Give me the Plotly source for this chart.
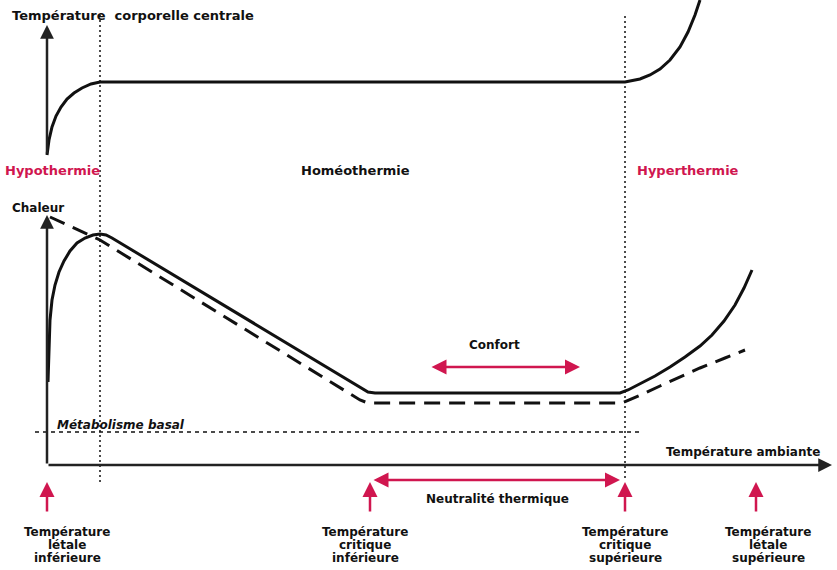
import plotly.graph_objects as go

# Schematic units: x = ambient temperature scale, y = response scale (upward)
# Key ambient temperatures
t_letale_inf = 47
t_homeo_start = 100
t_critique_inf = 370
t_critique_sup = 625
t_letale_sup = 756

# Core body temperature (upper panel)
corps_x = [47, 49, 52, 56, 61, 67, 74, 82, 91, 100, 625, 630, 640, 650, 660, 670, 680, 688, 695, 700]
corps_y = [415, 430, 443, 454, 463, 471, 477, 482, 486, 488, 488, 489, 491, 495, 501, 510, 523, 538, 555, 570]

# Heat production (lower panel, solid)
chaleur_x = [48, 49, 50, 52, 55, 59, 64, 70, 77, 85, 93, 100, 106, 112, 362, 368, 375,
             620, 628, 640, 655, 670, 685, 700, 712, 724, 735, 744, 752]
chaleur_y = [188, 225, 250, 270, 285, 298, 309, 319, 327, 332, 335, 336, 335, 332, 182, 178, 177,
             177, 180, 186, 194, 203, 213, 224, 235, 249, 265, 282, 300]

# Heat loss (lower panel, dashed)
perte_x = [50, 100, 360, 368, 622, 632, 645, 660, 680, 700, 725, 745]
perte_y = [353, 330, 170, 167, 167, 171, 177, 184, 193, 202, 212, 220]

# Basal metabolism level
basal_y = 138
basal_x = [35, 640]

RED = "#d0164f"
BLACK = "#111111"
FONT = "DejaVu Sans, Liberation Sans, Arial, sans-serif"

fig = go.Figure()

fig.add_trace(go.Scatter(x=corps_x, y=corps_y, mode="lines",
                         line=dict(color=BLACK, width=3)))
fig.add_trace(go.Scatter(x=chaleur_x, y=chaleur_y, mode="lines",
                         line=dict(color=BLACK, width=3)))
fig.add_trace(go.Scatter(x=perte_x, y=perte_y, mode="lines",
                         line=dict(color=BLACK, width=3, dash="16px,9px")))
fig.add_trace(go.Scatter(x=basal_x, y=[basal_y, basal_y], mode="lines",
                         line=dict(color=BLACK, width=1.5, dash="4px,4px")))

# Dotted zone boundaries
for xv, y0 in [(t_homeo_start, 88), (t_critique_sup, 92)]:
    fig.add_trace(go.Scatter(x=[xv, xv], y=[y0, 555], mode="lines",
                             line=dict(color=BLACK, width=1.5, dash="2px,3px")))

annotations = []

def arrow(x0, y0, x1, y1, color, width, size=1.0, head=2, both=False):
    annotations.append(dict(x=x1, y=y1, ax=x0, ay=y0, xref="x", yref="y",
                            axref="x", ayref="y", text="", showarrow=True,
                            arrowhead=head, arrowsize=size, arrowwidth=width,
                            arrowcolor=color, startarrowhead=head, startarrowsize=size,
                            arrowside="end+start" if both else "end"))

def label(x, y, text, size=13, color=BLACK, xanchor="center", italic=False):
    annotations.append(dict(x=x, y=y, xref="x", yref="y", text="<b>" + text + "</b>",
                            showarrow=False, xanchor=xanchor, yanchor="middle",
                            font=dict(family=FONT, size=size, color=color,
                                      style="italic" if italic else "normal")))

def stacked_label(x, y_top, lines, size=12, spacing=13):
    for i, line in enumerate(lines):
        label(x, y_top - i * spacing, line, size=size)

# Axes
arrow(47, 415, 47, 545, "#222222", 2.5, 1.1)
arrow(47, 105, 47, 355, "#222222", 2.5, 1.1)
arrow(47, 105, 832, 105, "#222222", 2.5, 1.1)

# Comfort and thermal neutrality ranges
arrow(430, 203, 580, 203, RED, 2.5, 1.2, both=True)
arrow(372, 90, 620, 90, RED, 2.5, 1.2, both=True)

# Markers of key ambient temperatures
for xv in [t_letale_inf, t_critique_inf, t_critique_sup, t_letale_sup]:
    arrow(xv, 57, xv, 88, RED, 2.5, 1.2)

label(10, 555, "Température  corporelle centrale", xanchor="left")
label(52, 400, "Hypothermie", color=RED)
label(355, 400, "Homéothermie")
label(688, 400, "Hyperthermie", color=RED)
label(10, 362, "Chaleur", size=12, xanchor="left")
label(55, 145, "Métabolisme basal", size=12, xanchor="left", italic=True)
label(494, 225, "Confort", size=12)
label(822, 118, "Température ambiante", xanchor="right", size=12)
label(497, 71, "Neutralité thermique", size=12)
stacked_label(t_letale_inf + 20, 38, ["Température", "létale", "inférieure"])
stacked_label(t_critique_inf - 5, 38, ["Température", "critique", "inférieure"])
stacked_label(t_critique_sup, 38, ["Température", "critique", "supérieure"])
stacked_label(t_letale_sup + 12, 38, ["Température", "létale", "supérieure"])

fig.update_layout(
    width=837, height=570,
    margin=dict(l=0, r=0, t=0, b=0),
    paper_bgcolor="white", plot_bgcolor="white",
    showlegend=False,
    xaxis=dict(range=[0, 837], visible=False, fixedrange=True),
    yaxis=dict(range=[0, 570], visible=False, fixedrange=True),
    annotations=annotations,
)

fig.write_html("out.html")
